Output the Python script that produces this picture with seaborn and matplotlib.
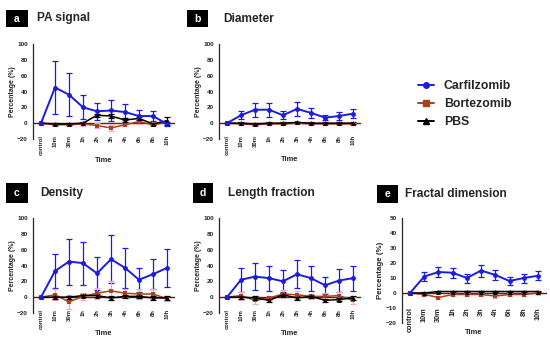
import numpy as np
import pandas as pd
import matplotlib.pyplot as plt
from matplotlib.patches import Rectangle
import seaborn as sns

sns.set_style('white')
plt.rcParams['font.family'] = ['Liberation Sans', 'DejaVu Sans']

times = ['control', '10m', '30m', '1h', '2h', '3h', '4h', '6h', '8h', '10h']
groups = ['Carfilzomib', 'Bortezomib', 'PBS']

# PA signal
pa_carf = [0, 45, 36, 20, 15, 16, 14, 9, 9, -1]
pa_carf_err = [0, 33, 27, 15, 11, 13, 10, 7, 6, 3]
pa_bort = [0, -2, -2, -1, -3, -6, -2, 2, -2, 1]
pa_bort_err = [0, 2, 2, 2, 3, 4, 2, 3, 2, 2]
pa_pbs = [0, -1, -1, 0, 10, 9, 4, 6, -1, 3]
pa_pbs_err = [0, 1, 1, 1, 2, 2, 2, 2, 1, 5]

# Diameter
di_carf = [0, 10, 17, 17, 10, 18, 13, 7, 9, 12]
di_carf_err = [0, 5, 9, 9, 5, 9, 6, 3, 5, 6]
di_bort = [0, -1, -2, -1, -1, 0, -1, -1, -1, -1]
di_bort_err = [0, 1, 1, 1, 1, 1, 1, 1, 1, 1]
di_pbs = [0, 0, -1, 0, 0, 1, 0, 0, 0, 0]
di_pbs_err = [0, 1, 1, 1, 1, 1, 1, 1, 1, 1]

# Density
de_carf = [0, 33, 45, 43, 30, 48, 37, 22, 29, 37]
de_carf_err = [0, 22, 29, 27, 21, 30, 25, 15, 19, 24]
de_bort = [0, 3, -6, 1, 5, 8, 5, 4, 4, -2]
de_bort_err = [0, 7, 9, 4, 7, 12, 5, 6, 6, 3]
de_pbs = [0, 0, 0, 2, 2, -1, 1, 1, -1, -1]
de_pbs_err = [0, 2, 2, 2, 2, 2, 2, 2, 2, 2]

# Length fraction
lf_carf = [0, 22, 26, 24, 20, 29, 24, 15, 21, 24]
lf_carf_err = [0, 15, 17, 16, 14, 18, 16, 11, 14, 16]
lf_bort = [0, 2, -4, -1, 4, 3, 1, 1, 2, -4]
lf_bort_err = [0, 5, 5, 3, 5, 5, 3, 4, 5, 4]
lf_pbs = [0, 0, -1, -4, 3, -1, 1, -4, -3, -1]
lf_pbs_err = [0, 2, 2, 2, 2, 2, 2, 2, 2, 2]

# Fractal dimension
fd_carf = [0, 11, 14, 13.5, 10, 15, 12, 8, 10, 11.5]
fd_carf_err = [0, 3, 3.5, 3.5, 3, 4, 3.5, 2.5, 3, 3]
fd_bort = [0, -1, -3, -1, -1, -1, -2, -1, -1, 0]
fd_bort_err = [0, 1, 1, 1, 1, 1, 1, 1, 1, 1]
fd_pbs = [0, 0, 1, 1, 1, 1, 1, 1, 1, 1]
fd_pbs_err = [0, 0.5, 0.5, 0.5, 0.5, 0.5, 0.5, 0.5, 0.5, 0.5]

colors = {'Carfilzomib': '#1c1ce0', 'Bortezomib': '#a8411c', 'PBS': '#000000'}
markers = {'Carfilzomib': 'o', 'Bortezomib': 's', 'PBS': '^'}

panels = [
    ('a', 'PA signal', [pa_carf, pa_bort, pa_pbs], [pa_carf_err, pa_bort_err, pa_pbs_err], (-20, 100, 20)),
    ('b', 'Diameter', [di_carf, di_bort, di_pbs], [di_carf_err, di_bort_err, di_pbs_err], (-20, 100, 20)),
    ('c', 'Density', [de_carf, de_bort, de_pbs], [de_carf_err, de_bort_err, de_pbs_err], (-20, 100, 20)),
    ('d', 'Length fraction', [lf_carf, lf_bort, lf_pbs], [lf_carf_err, lf_bort_err, lf_pbs_err], (-20, 100, 20)),
    ('e', 'Fractal dimension', [fd_carf, fd_bort, fd_pbs], [fd_carf_err, fd_bort_err, fd_pbs_err], (-20, 50, 10)),
]

W, H = 550, 345
# axes boxes in pixels: left, top, width, height
boxes = [(32.6, 44, 142.8, 95), (218.6, 44, 142.8, 95),
         (32.6, 218, 142.8, 95), (218.6, 218, 142.8, 95),
         (401.5, 218, 145, 105)]
# letter box (x0, y0, x1, y1) and title x
heads = [((6, 10, 28, 27), 37), ((187, 10, 208, 27), 223), ((6, 183, 28, 203), 40),
         ((193, 183, 213, 203), 228), ((377, 185, 398, 203), 405)]
# x tick font, tick pad, "Time" y (axes fraction), ylabel font
xstyle = [(4.2, -3, -0.23, 5), (4.2, -3, -0.22, 5), (4.2, -3, -0.22, 5),
          (4.2, -3, -0.22, 5), (5.3, -11.5, -0.095, 5.7)]

fig = plt.figure(figsize=(5.5, 3.45), dpi=100)
x = np.arange(len(times))

for (letter, title, vals, errs, yr), box, head, xs in zip(panels, boxes, heads, xstyle):
    l, t, w, h = box
    ax = fig.add_axes([l / W, 1 - (t + h) / H, w / W, h / H])
    df = pd.concat([pd.DataFrame({'x': x, 'y': v, 'group': g}) for g, v in zip(groups, vals)])
    # error bars first (Bortezomib drawn in a pale pink, like the original)
    for g, v, e in zip(groups, vals, errs):
        ec = '#f2a6cf' if g == 'Bortezomib' else colors[g]
        ax.errorbar(x, v, yerr=e, fmt='none', ecolor=ec, elinewidth=0.9,
                    capsize=2, capthick=0.9, zorder=2)
    ax.axhline(0, color='#7a1010', lw=1.0, zorder=1)
    for g in ['Bortezomib', 'PBS', 'Carfilzomib']:
        sub = df[df.group == g]
        sns.lineplot(data=sub, x='x', y='y', ax=ax, color=colors[g], marker=markers[g],
                     markersize=3.5, markeredgewidth=0, lw=1.4 if g == 'Carfilzomib' else 1.1,
                     label=g, legend=False, zorder=3)
    ax.set_xlim(-0.6, 9.6)
    ax.set_ylim(yr[0], yr[1])
    ax.set_yticks(np.arange(yr[0], yr[1] + 1, yr[2]))
    ax.set_xticks(x)
    ax.set_xticklabels(times, rotation=90, fontsize=xs[0], fontweight='bold', va='top')
    for lab in ax.get_yticklabels():
        lab.set_fontsize(4.6)
        lab.set_fontweight('bold')
    ax.tick_params(axis='y', length=2.5, width=0.8, pad=1)
    ax.tick_params(axis='x', length=0, pad=xs[1])
    sns.despine(ax=ax, bottom=True)
    ax.spines['left'].set_linewidth(0.9)
    ax.set_xlabel('Time', fontsize=5.4, fontweight='bold', va='center')
    ax.xaxis.set_label_coords(0.5, xs[2])
    ax.set_ylabel('Percentage (%)', fontsize=xs[3], fontweight='bold', labelpad=1)

    (x0, y0, x1, y1), tx = head
    fig.patches.append(Rectangle((x0 / W, 1 - y1 / H), (x1 - x0) / W, (y1 - y0) / H,
                                 transform=fig.transFigure, fc='black', ec='none'))
    cy = 1 - (y0 + y1) / 2 / H
    fig.text((x0 + x1) / 2 / W, cy, letter, color='white', fontsize=7.5, fontweight='bold',
             ha='center', va='center')
    fig.text(tx / W, cy, title, fontsize=8.6, fontweight='bold', ha='left', va='center')

handles = [plt.Line2D([], [], color=colors[g], marker=markers[g], markersize=4, lw=1.4) for g in groups]
leg = fig.legend(handles, groups, loc='upper left', bbox_to_anchor=(412 / W, 1 - 74 / H),
                 frameon=False, handlelength=1.3, handletextpad=0.8, labelspacing=0.5,
                 borderpad=0, prop={'size': 8.8, 'weight': 'bold'})

fig.savefig('out.png', dpi=100)
